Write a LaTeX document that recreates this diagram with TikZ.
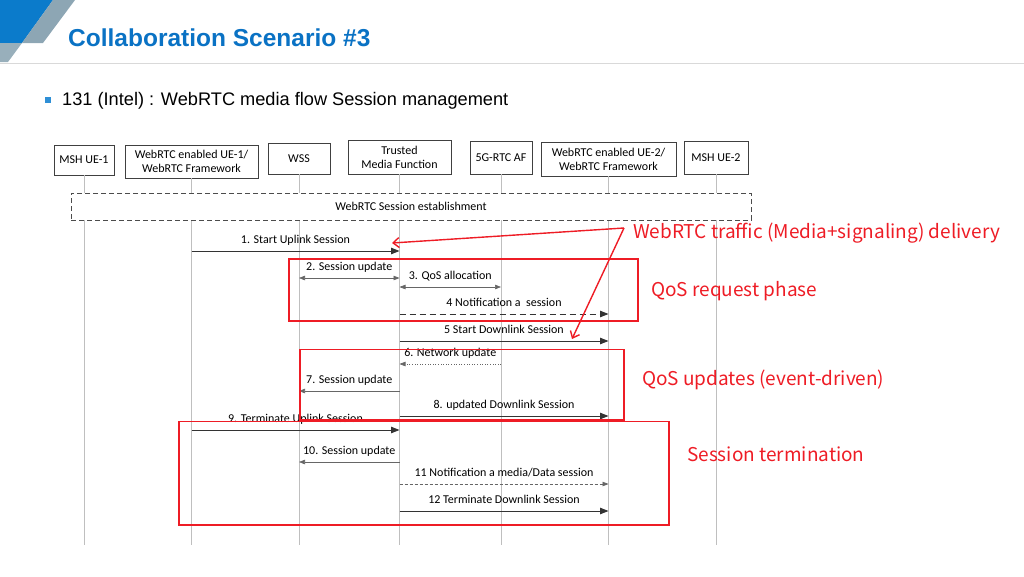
\documentclass[tikz,border=0pt]{standalone}
\usepackage{fontspec}
\setmainfont{Carlito}
\newfontfamily\arialf{Liberation Sans}
\newfontfamily\redf{Noto Sans CJK KR}
\usetikzlibrary{arrows.meta}
\definecolor{titleblue}{HTML}{0A72C4}
\definecolor{cornerblue}{HTML}{0B7BCB}
\definecolor{cornergray}{HTML}{8DA6B4}
\definecolor{bulletblue}{HTML}{2E8FD6}
\definecolor{annred}{HTML}{EE1C25}
\definecolor{lifegray}{HTML}{BFBFBF}
\definecolor{msggray}{HTML}{333333}
\tikzset{
  actor/.style={draw=black!75, line width=0.7pt, fill=white, font=\fontsize{12}{14}\selectfont, align=center, inner sep=1pt},
  life/.style={draw=lifegray, line width=0.7pt},
  bighead/.style={-{Triangle[length=8.5pt,width=6.5pt]}},
  smallhead/.style={-{Triangle[length=6pt,width=4.5pt]}},
  msg/.style={draw=msggray, line width=0.9pt, bighead},
  thinmsg/.style={draw=black!60, line width=0.6pt, smallhead},
  dblmsg/.style={draw=black!60, line width=0.6pt, {Triangle[length=6pt,width=4.5pt]}-{Triangle[length=6pt,width=4.5pt]}},
  lbl/.style={font=\fontsize{12}{14}\selectfont, inner sep=0pt, text height=8.5pt, text depth=2.5pt, above=4.5pt, midway},
  redbox/.style={draw=annred, line width=1.5pt},
  redarrow/.style={draw=annred, line width=1.4pt, -{Straight Barb[length=6pt,width=10pt]}},
  redlbl/.style={text=annred, font=\redf\fontsize{19}{22}\selectfont, inner sep=0pt, anchor=base west},
}
\begin{document}
\begin{tikzpicture}[x=1pt,y=-1pt]
\useasboundingbox (0,0) rectangle (1024,576);
% header
\fill[cornerblue] (0,0) -- (53,0) -- (22,43) -- (0,43) -- cycle;
\fill[cornergray] (53,0) -- (75,0) -- (43,43) -- (22,43) -- cycle;
\fill[cornergray!90!white] (0,43) -- (22,43) -- (8,62) -- (0,62) -- cycle;
\draw[draw=black!15, line width=1.2pt] (0,63.5) -- (1024,63.5);
\node[anchor=base west, inner sep=0pt, text=titleblue, font=\arialf\bfseries\fontsize{24.5}{28}\selectfont] (title) at (68,46) {Collaboration Scenario \#3};
\fill[bulletblue] (45,97) rectangle (51,103);
\node[anchor=base west, inner sep=0pt, font=\arialf\fontsize{18.2}{22}\selectfont] (sub) at (62,105.5) {131 (Intel) : WebRTC media flow Session management};
% actors
\node[actor, minimum width=60pt, minimum height=30pt] (msh1) at (84,160) {MSH UE-1};
\node[actor, minimum width=133pt, minimum height=33pt] (ue1) at (191.5,161.5) {WebRTC enabled UE-1/\\WebRTC Framework};
\node[actor, minimum width=62pt, minimum height=31pt] (wss) at (299,158.5) {WSS};
\node[actor, minimum width=103pt, minimum height=34pt] (tmf) at (399.5,157) {Trusted\\Media Function};
\node[actor, minimum width=62pt, minimum height=33pt] (af) at (501,157.5) {5G-RTC AF};
\node[actor, minimum width=135pt, minimum height=34pt] (ue2) at (608.5,159) {WebRTC enabled UE-2/\\WebRTC Framework};
\node[actor, minimum width=64pt, minimum height=33pt] (msh2) at (716,157.5) {MSH UE-2};
% lifelines
\foreach \n in {msh1,ue1,wss,tmf,af,ue2,msh2}{
  \coordinate (\n-end) at (\n.south |- 0,545);
  \draw[life] (\n.south) -- (\n-end);
}
% session establishment box
\node[draw=black!70, dash pattern=on 5pt off 3pt, line width=0.7pt, fill=white, minimum width=680pt, minimum height=27pt, inner sep=0pt] (est) at (411,206.5) {};
\node[font=\fontsize{12}{14}\selectfont, inner sep=0pt] (estlbl) at (411,206.5) {WebRTC Session establishment};
% messages
\draw[msg] (ue1 |- 0,251) -- (tmf |- 0,251) node[lbl] {1. Start Uplink Session};
\draw[dblmsg] (wss |- 0,278) -- (tmf |- 0,278) node[lbl] {2. Session update};
\draw[dblmsg] (tmf |- 0,287) -- (af |- 0,287) node[lbl] {3. QoS allocation};
\draw[msg, dash pattern=on 6pt off 4pt] (tmf |- 0,314) -- (ue2 |- 0,314) node[lbl] {4 Notification a\ \ session};
\draw[msg] (tmf |- 0,341) -- (ue2 |- 0,341) node[lbl] {5 Start Downlink Session};
\draw[thinmsg, dotted] (af |- 0,364) -- (tmf |- 0,364) node[lbl] {6. Network update};
\draw[thinmsg] (tmf |- 0,391) -- (wss |- 0,391) node[lbl] {7. Session update};
\draw[msg] (tmf |- 0,416) -- (ue2 |- 0,416) node[lbl] {8. updated Downlink Session};
\draw[msg] (ue1 |- 0,430) -- (tmf |- 0,430) node[lbl] {9. Terminate Uplink Session};
\draw[thinmsg] (tmf |- 0,462) -- (wss |- 0,462) node[lbl] {10. Session update};
\draw[thinmsg, dash pattern=on 3pt off 2pt] (tmf |- 0,484) -- (ue2 |- 0,484) node[lbl] {11 Notification a media/Data session};
\draw[msg] (tmf |- 0,511) -- (ue2 |- 0,511) node[lbl] {12 Terminate Downlink Session};
% red annotation boxes
\draw[redbox] (289,259) rectangle (638,321);
\draw[redbox] (300,349.5) rectangle (624,420);
\draw[redbox] (179,421.5) rectangle (669,525);
% red labels
\node[redlbl] (rl1) at (633,238) {WebRTC traffic (Media+signaling) delivery};
\node[redlbl] (rl2) at (651,296) {QoS request phase};
\node[redlbl] (rl3) at (642,385) {QoS updates (event-driven)};
\node[redlbl] (rl4) at (687,461.5) {Session termination};
% red arrows
\coordinate (apex) at (624,228);
\coordinate (tip1) at (392,243);
\coordinate (tip2) at (572,339);
\draw[redarrow] (apex) -- (tip1);
\draw[redarrow] (apex) -- (tip2);
\end{tikzpicture}
\end{document}
